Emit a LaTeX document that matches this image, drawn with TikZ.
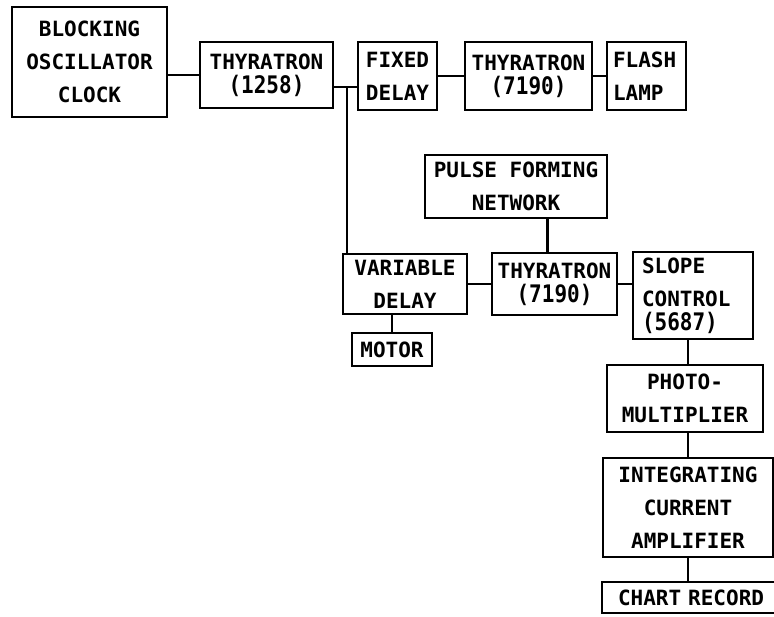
\documentclass[tikz,border=0pt]{standalone}
\usepackage{fontspec}
\setmonofont{DejaVu Sans Mono}
\usepackage{tikz}
\usetikzlibrary{positioning, calc}
\newcommand{\tubeno}[1]{\scalebox{1}[1.15]{#1}}
\newcommand{\unitfont}{\ttfamily\bfseries\fontsize{21}{33}\selectfont\lineskiplimit=-60pt\relax}
\tikzset{
  unitbox/.style={
    draw, line width=2.5pt, inner sep=0pt, align=center,
    font=\unitfont
  },
  unitboxleft/.style={
    unitbox, align=left
  },
  wire/.style={
    line width=2.5pt
  },
}

\begin{document}
\begin{tikzpicture}[x=1pt, y=-1pt]
  \useasboundingbox (0,0) rectangle (774,616);

  % ── Trigger chain ──────────────────────────────────────────────
  \node[unitbox, minimum width=155pt, minimum height=110pt]
    (clock) at (89.5, 62) {BLOCKING\\OSCILLATOR\\CLOCK};
  \node[unitbox, minimum width=133pt, minimum height=66pt]
    (thyA) at (266.5, 75) {THYRATRON\\[-9pt]\tubeno{(1258)}};
  \node[unitbox, minimum width=79pt, minimum height=68pt]
    (fixdelay) at (397.5, 76) {FIXED\\DELAY};
  \node[unitbox, minimum width=127pt, minimum height=68pt]
    (thyB) at (528.5, 76) {THYRATRON\\[-9pt]\tubeno{(7190)}};
  \node[unitboxleft, minimum width=79pt, minimum height=68pt,
        text width=67pt, inner xsep=6pt]
    (flash) at (646.5, 76) {FLASH\\LAMP};

  % ── Delayed branch ─────────────────────────────────────────────
  \node[unitbox, minimum width=182pt, minimum height=63pt]
    (pfn) at (516, 186.5) {PULSE FORMING\\NETWORK};
  \node[unitbox, minimum width=124pt, minimum height=60pt]
    (vardelay) at (405, 284) {VARIABLE\\DELAY};
  \node[unitbox, minimum width=125pt, minimum height=62pt]
    (thyC) at (554.5, 284) {THYRATRON\\[-9pt]\tubeno{(7190)}};
  \node[unitboxleft, minimum width=120pt, minimum height=87pt,
        text width=102pt, inner xsep=9pt]
    (slope) at (693, 295.5) {SLOPE\\CONTROL\\[-9pt]\tubeno{(5687)}};
  \node[unitbox, minimum width=80pt, minimum height=33pt]
    (motor) at (392, 349.5) {MOTOR};

  % ── Detection ──────────────────────────────────────────────────
  \node[unitbox, minimum width=156pt, minimum height=67pt]
    (photo) at (685, 398.5) {PHOTO-\\MULTIPLIER};
  \node[unitbox, minimum width=170pt, minimum height=99pt]
    (integ) at (688, 507.5) {INTEGRATING\\CURRENT\\AMPLIFIER};
  \node[unitboxleft, minimum width=198pt, minimum height=31pt,
        text width=166pt, inner xsep=16pt]
    (chart) at (701, 597.5) {CHART RECORD};

  % ── Wiring ─────────────────────────────────────────────────────
  \coordinate (jA) at (347, 87);
  \draw[wire] (thyA.west) -- (thyA.west -| clock.east);
  \draw[wire] (thyA.east |- jA) -- (fixdelay.west |- jA);
  \draw[wire] (jA) -- (jA |- vardelay.north);
  \draw[wire] (fixdelay.east) -- (fixdelay.east -| thyB.west);
  \draw[wire] (thyB.east) -- (thyB.east -| flash.west);
  \draw[wire] ([xshift=-7pt]thyC.north) -- ([xshift=-7pt]thyC.north |- pfn.south);
  \draw[wire] (vardelay.east) -- (vardelay.east -| thyC.west);
  \draw[wire] (motor.north) -- (motor.north |- vardelay.south);
  \draw[wire] (thyC.east) -- (thyC.east -| slope.west);
  \draw[wire] ([xshift=-5pt]slope.south) -- ([xshift=-5pt]slope.south |- photo.north);
  \draw[wire] (integ.north) -- (integ.north |- photo.south);
  \draw[wire] (integ.south) -- (integ.south |- chart.north);
\end{tikzpicture}
\end{document}
